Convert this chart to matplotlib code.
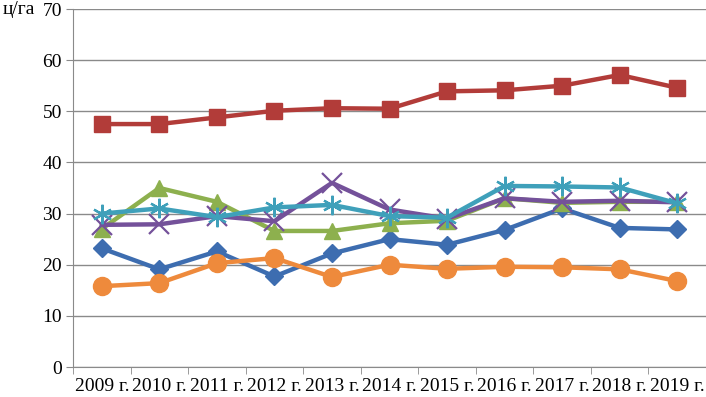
import numpy as np
import matplotlib
matplotlib.use('Agg')
import matplotlib.pyplot as plt

years = ['2009 г.', '2010 г.', '2011 г.', '2012 г.', '2013 г.', '2014 г.',
         '2015 г.', '2016 г.', '2017 г.', '2018 г.', '2019 г.']

blue = [23.2, 19.1, 22.6, 17.7, 22.2, 25.0, 23.9, 26.8, 31.0, 27.2, 26.9]
red = [47.5, 47.5, 48.8, 50.1, 50.6, 50.5, 53.9, 54.1, 55.0, 57.1, 54.6]
green = [27.0, 35.0, 32.3, 26.6, 26.6, 28.1, 28.6, 33.0, 32.1, 32.3, 32.3]
purple = [27.8, 27.9, 29.5, 28.5, 36.0, 30.8, 29.0, 33.0, 32.3, 32.5, 32.2]
cyan = [30.0, 31.0, 29.3, 31.2, 31.7, 29.5, 29.2, 35.4, 35.3, 35.1, 32.0]
orange = [15.8, 16.4, 20.3, 21.3, 17.6, 20.0, 19.2, 19.6, 19.5, 19.1, 16.8]

plt.rcParams['font.family'] = ['Liberation Serif', 'DejaVu Serif']

fig = plt.figure(figsize=(7.06, 3.97), dpi=100)
ax = fig.add_axes([73/706, 30/397, 633/706, 358/397])

x = np.arange(len(years))
lw = 3.2
ax.plot(x, blue, color='#3D6DB0', lw=lw, marker='D', ms=9, zorder=3)
ax.plot(x, red, color='#B23C39', lw=lw, marker='s', ms=11, zorder=3)
ax.plot(x, green, color='#8DB04E', lw=lw, marker='^', ms=12, zorder=3)
ax.plot(x, purple, color='#74519A', lw=lw, marker='x', ms=14, mew=1.6, zorder=3)
ax.plot(x, cyan, color='#3FA0BA', lw=lw, marker=(6, 2, 0), ms=14, mew=1.6, zorder=3)
ax.plot(x, orange, color='#EE8A3C', lw=lw, marker='o', ms=13, zorder=3)

ax.set_xlim(-0.5, len(years) - 0.5)
ax.set_ylim(0, 70)
ax.set_yticks(range(0, 71, 10))
ax.yaxis.grid(True, color='#8A8A8A', lw=1)
ax.set_axisbelow(True)

ax.set_xticks(x)
ax.set_xticklabels(years)
ax.set_xticks(np.arange(-0.5, len(years), 1), minor=True)
ax.tick_params(axis='x', which='major', length=0, labelsize=14, pad=8)
ax.tick_params(axis='x', which='minor', length=5, color='#8A8A8A')
ax.tick_params(axis='y', length=5, color='#8A8A8A', labelsize=14, pad=3)

for s in ['top', 'right']:
    ax.spines[s].set_visible(False)
for s in ['left', 'bottom']:
    ax.spines[s].set_color('#8A8A8A')

fig.text(3/706, 1 - 9/397, 'ц/га', fontsize=14, va='center', ha='left')

fig.savefig('out.png', dpi=100)
